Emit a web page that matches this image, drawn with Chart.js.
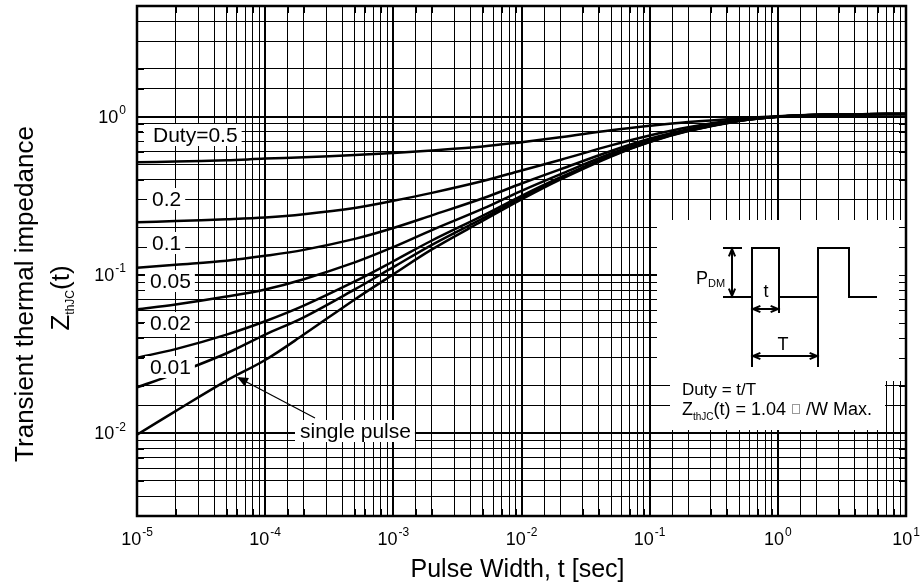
<!DOCTYPE html>
<html>
<head>
<meta charset="utf-8">
<script src="https://cdn.jsdelivr.net/npm/chart.js@4.4.1/dist/chart.umd.min.js"></script>
<style>
  html, body { margin: 0; padding: 0; background: #fff; }
  #wrap { width: 921px; height: 586px; position: relative; }
</style>
</head>
<body>
<div id="wrap"><canvas id="zth"></canvas></div>
<script>
// pulse width t [sec]
const tValues = [1e-5, 2e-5, 5e-5, 1e-4, 2e-4, 5e-4, 1e-3, 2e-3, 5e-3, 1e-2, 2e-2, 5e-2, 0.1, 0.2, 0.5, 1, 2, 5, 10];

// Zth(t), one list per duty cycle
const zD05    = [0.515, 0.520, 0.530, 0.543, 0.553, 0.572, 0.590, 0.612, 0.648, 0.690, 0.740, 0.820, 0.875, 0.925, 0.975, 1.005, 1.027, 1.038, 1.040];
const zD02    = [0.215, 0.219, 0.225, 0.231, 0.242, 0.265, 0.294, 0.330, 0.392, 0.457, 0.532, 0.658, 0.760, 0.856, 0.958, 1.002, 1.025, 1.037, 1.040];
const zD01    = [0.111, 0.116, 0.123, 0.132, 0.144, 0.169, 0.198, 0.238, 0.305, 0.378, 0.464, 0.607, 0.725, 0.833, 0.950, 1.000, 1.025, 1.037, 1.040];
const zD005   = [0.0605, 0.065, 0.073, 0.081, 0.094, 0.120, 0.150, 0.192, 0.262, 0.340, 0.432, 0.585, 0.708, 0.823, 0.946, 1.000, 1.025, 1.037, 1.040];
const zD002   = [0.030, 0.034, 0.042, 0.051, 0.064, 0.091, 0.122, 0.165, 0.237, 0.316, 0.413, 0.570, 0.698, 0.816, 0.943, 1.000, 1.025, 1.037, 1.040];
const zD001   = [0.0195, 0.0238, 0.032, 0.042, 0.054, 0.081, 0.112, 0.155, 0.228, 0.308, 0.406, 0.565, 0.694, 0.813, 0.942, 1.000, 1.025, 1.037, 1.040];
const zSingle = [0.0098, 0.0138, 0.0215, 0.029, 0.042, 0.070, 0.101, 0.145, 0.220, 0.300, 0.400, 0.560, 0.690, 0.810, 0.940, 1.000, 1.025, 1.037, 1.040];

const seriesNames = ['Duty=0.5', '0.2', '0.1', '0.05', '0.02', '0.01', 'single pulse'];
const seriesData = [zD05, zD02, zD01, zD005, zD002, zD001, zSingle];

// decade tick labels (10^n)
const xTickExps = [-5, -4, -3, -2, -1, 0, 1];
const yTickExps = [-2, -1, 0];

const xTitle = 'Pulse Width, t [sec]';
const yTitle1 = 'Transient thermal impedance';
const FONT = '"Liberation Sans", Arial, sans-serif';

function isDecade(v) {
  const l = Math.log10(v);
  return Math.abs(l - Math.round(l)) < 1e-6;
}

function gridWidth(c) {
  return c.tick && isDecade(c.tick.value) ? 2 : 1;
}

// draws "10" with superscript exponent
function drawPow(ctx, cx, baseline, exp, size, align) {
  ctx.font = size + 'px ' + FONT;
  const wb = ctx.measureText('10').width;
  const supSize = Math.round(size * 0.65);
  ctx.font = supSize + 'px ' + FONT;
  const ws = ctx.measureText(String(exp)).width;
  let x0 = align === 'right' ? cx - wb - ws - 1 : cx - (wb + ws + 1) / 2;
  ctx.textAlign = 'left';
  ctx.textBaseline = 'alphabetic';
  ctx.font = size + 'px ' + FONT;
  ctx.fillText('10', x0, baseline);
  ctx.font = supSize + 'px ' + FONT;
  ctx.fillText(String(exp), x0 + wb + 1, baseline - size * 0.48);
}

function arrowHead(ctx, x, y, ang, len, open) {
  ctx.beginPath();
  ctx.moveTo(x + len * Math.cos(ang + 0.4), y + len * Math.sin(ang + 0.4));
  ctx.lineTo(x, y);
  ctx.lineTo(x + len * Math.cos(ang - 0.4), y + len * Math.sin(ang - 0.4));
  if (open) { ctx.stroke(); } else { ctx.closePath(); ctx.fill(); }
}

const decor = {
  id: 'decor',
  afterDatasetsDraw(chart) {
    const { ctx, chartArea: a, scales: { x, y } } = chart;
    ctx.save();
    ctx.fillStyle = '#000';
    ctx.strokeStyle = '#000';

    // white inset box (pulse diagram)
    ctx.fillStyle = '#fff';
    ctx.fillRect(657, 220, a.right - 657, 161);
    ctx.fillRect(670, 381, 215, 49);

    // curve labels on white boxes
    const labelPos = [[a.left + 16, 135], [a.left + 15, 199], [a.left + 15, 243], [a.left + 13, 281],
                      [a.left + 13, 323], [a.left + 13, 367], [a.left + 163, 431]];
    ctx.font = '21px ' + FONT;
    ctx.textBaseline = 'middle';
    ctx.textAlign = 'left';
    seriesNames.forEach((name, i) => {
      const [lx, ly] = labelPos[i];
      const w = ctx.measureText(name).width;
      ctx.fillStyle = '#fff';
      const padL = i === 0 ? 10 : 5;
      ctx.fillRect(lx - padL, ly - 11, w + padL + 4, 22);
      ctx.fillStyle = '#000';
      ctx.fillText(name, lx, ly + 1);
    });

    // arrow for single pulse
    ctx.lineWidth = 1.2;
    ctx.beginPath();
    ctx.moveTo(315, 418);
    ctx.lineTo(239, 378);
    ctx.stroke();
    arrowHead(ctx, 237, 377, Math.atan2(418 - 377, 315 - 237), 12, false);

    // pulse diagram
    const ox = 657, oy = 220;
    const yb = oy + 77, yt = oy + 28;
    ctx.lineWidth = 2;
    ctx.beginPath();
    ctx.moveTo(ox + 66, yb); ctx.lineTo(ox + 95, yb); ctx.lineTo(ox + 95, yt); ctx.lineTo(ox + 122, yt);
    ctx.lineTo(ox + 122, yb); ctx.lineTo(ox + 161, yb); ctx.lineTo(ox + 161, yt); ctx.lineTo(ox + 192, yt);
    ctx.lineTo(ox + 192, yb); ctx.lineTo(ox + 220, yb);
    ctx.moveTo(ox + 66, yt); ctx.lineTo(ox + 85, yt);
    ctx.moveTo(ox + 75, yt); ctx.lineTo(ox + 75, yb);
    ctx.moveTo(ox + 95, yb); ctx.lineTo(ox + 95, oy + 147);
    ctx.moveTo(ox + 161, yb); ctx.lineTo(ox + 161, oy + 147);
    ctx.moveTo(ox + 122, yb); ctx.lineTo(ox + 122, oy + 93);
    ctx.moveTo(ox + 95, oy + 89); ctx.lineTo(ox + 122, oy + 89);
    ctx.moveTo(ox + 95, oy + 136); ctx.lineTo(ox + 161, oy + 136);
    ctx.stroke();
    arrowHead(ctx, ox + 75, yt + 1, Math.PI / 2, 8, true);
    arrowHead(ctx, ox + 75, yb - 1, -Math.PI / 2, 8, true);
    arrowHead(ctx, ox + 96, oy + 89, 0, 8, true);
    arrowHead(ctx, ox + 121, oy + 89, Math.PI, 8, true);
    arrowHead(ctx, ox + 96, oy + 136, 0, 8, true);
    arrowHead(ctx, ox + 160, oy + 136, Math.PI, 8, true);

    ctx.textBaseline = 'alphabetic';
    ctx.textAlign = 'center';
    ctx.font = '18px ' + FONT;
    ctx.fillText('t', ox + 109, oy + 77);
    ctx.fillText('T', ox + 126, oy + 130);
    ctx.textAlign = 'left';
    ctx.fillText('P', ox + 39, oy + 64);
    ctx.font = '11px ' + FONT;
    ctx.fillText('DM', ox + 51, oy + 67);

    ctx.font = '17px ' + FONT;
    ctx.fillText('Duty = t/T', 682, 395);
    let zx = 682;
    ctx.font = '18px ' + FONT;
    ctx.fillText('Z', zx, 415); zx += ctx.measureText('Z').width;
    ctx.font = '10px ' + FONT;
    ctx.fillText('thJC', zx, 420); zx += ctx.measureText('thJC').width;
    ctx.font = '18px ' + FONT;
    const rest = '(t) = 1.04 ';
    ctx.fillText(rest, zx, 415); zx += ctx.measureText(rest).width + 1;
    // missing-glyph box as in the source
    ctx.strokeStyle = '#999';
    ctx.lineWidth = 1;
    ctx.strokeRect(Math.round(zx) + 0.5, 404.5, 7, 9);
    ctx.strokeStyle = '#000';
    zx += 9;
    ctx.fillText(' /W Max.', zx, 415);

    // inner ticks on all four sides
    ctx.lineWidth = 1;
    ctx.beginPath();
    x.ticks.forEach(t => {
      const px = Math.round(x.getPixelForValue(t.value)) + 0.5;
      ctx.moveTo(px, a.bottom); ctx.lineTo(px, a.bottom - 7);
      ctx.moveTo(px, a.top); ctx.lineTo(px, a.top + 7);
    });
    y.ticks.forEach(t => {
      const py = Math.round(y.getPixelForValue(t.value)) + 0.5;
      ctx.moveTo(a.left, py); ctx.lineTo(a.left + 7, py);
      ctx.moveTo(a.right, py); ctx.lineTo(a.right - 7, py);
    });
    ctx.stroke();

    // frame
    ctx.lineWidth = 2.5;
    ctx.strokeRect(a.left, a.top, a.right - a.left, a.bottom - a.top);

    // tick labels
    xTickExps.forEach(e => drawPow(ctx, x.getPixelForValue(Math.pow(10, e)), a.bottom + 29, e, 18, 'center'));
    yTickExps.forEach(e => drawPow(ctx, a.left - 11, y.getPixelForValue(Math.pow(10, e)) + 6, e, 18, 'right'));

    // axis titles
    ctx.textAlign = 'center';
    ctx.textBaseline = 'alphabetic';
    ctx.font = '25px ' + FONT;
    ctx.fillText(xTitle, (a.left + a.right) / 2 - 4, 577);

    ctx.save();
    ctx.translate(0, 294);
    ctx.rotate(-Math.PI / 2);
    ctx.font = '26px ' + FONT;
    ctx.fillText(yTitle1, 0, 33);
    // Z_thJC(t)
    const wZ = ctx.measureText('Z').width;
    const wP = ctx.measureText('(t)').width;
    ctx.font = '12px ' + FONT;
    const wS = ctx.measureText('thJC').width;
    let sx = -(wZ + wS + wP) / 2 - 4;
    ctx.textAlign = 'left';
    ctx.font = '26px ' + FONT;
    ctx.fillText('Z', sx, 69); sx += wZ;
    ctx.font = '12px ' + FONT;
    ctx.fillText('thJC', sx, 74); sx += wS;
    ctx.font = '26px ' + FONT;
    ctx.fillText('(t)', sx, 69);
    ctx.restore();

    ctx.restore();
  }
};

const datasets = seriesData.map((arr, i) => ({
  label: seriesNames[i],
  data: tValues.map((t, k) => ({ x: t, y: arr[k] })),
  borderColor: '#000',
  borderWidth: 2.5,
  pointRadius: 0,
  fill: false,
  tension: 0.35
}));

new Chart(document.getElementById('zth'), {
  type: 'line',
  data: { datasets: datasets },
  options: {
    responsive: true,
    maintainAspectRatio: false,
    animation: false,
    devicePixelRatio: 1,
    layout: { padding: { top: 6, right: 15, left: 0, bottom: 0 } },
    plugins: { legend: { display: false }, tooltip: { enabled: false } },
    scales: {
      x: {
        type: 'logarithmic', min: 1e-5, max: 10,
        ticks: { display: false },
        grid: { color: '#000', lineWidth: gridWidth, drawTicks: false },
        border: { display: false },
        afterFit: s => { s.height = 70; }
      },
      y: {
        type: 'logarithmic', min: 0.003, max: 5,
        ticks: { display: false },
        grid: { color: '#000', lineWidth: gridWidth, drawTicks: false },
        border: { display: false },
        afterFit: s => { s.width = 137; }
      }
    }
  },
  plugins: [decor]
});
</script>
</body>
</html>
